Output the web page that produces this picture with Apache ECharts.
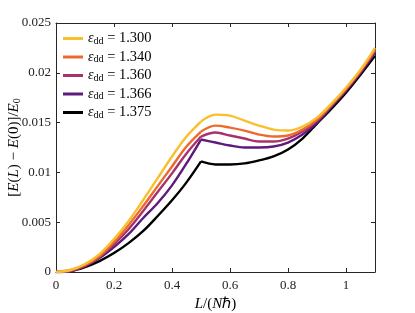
<!DOCTYPE html>
<html>
<head>
<meta charset="utf-8">
<script src="https://cdn.jsdelivr.net/npm/echarts@6/dist/echarts.min.js"></script>
<style>html,body{margin:0;padding:0;background:#fff}#c{width:415px;height:313px}</style>
</head>
<body>
<div id="c"></div>
<script>
var L = [0, 0.05, 0.1, 0.15, 0.2, 0.25, 0.3, 0.35, 0.4, 0.45, 0.5, 0.55, 0.6, 0.65, 0.7, 0.75, 0.8, 0.85, 0.9, 0.95, 1.0, 1.05, 1.1];
var eps = ['1.300', '1.340', '1.360', '1.366', '1.375'];
var e1300 = [0, 0.0002, 0.0008, 0.0018, 0.0033, 0.0051, 0.0072, 0.0094, 0.0116, 0.0136, 0.0151, 0.0158, 0.0157, 0.0152, 0.0147, 0.0143, 0.0142, 0.0146, 0.0155, 0.0169, 0.0185, 0.0203, 0.0225];
var e1340 = [0, 0.0002, 0.0007, 0.0016, 0.0030, 0.0047, 0.0066, 0.0086, 0.0106, 0.0126, 0.0141, 0.0147, 0.0145, 0.0142, 0.0138, 0.0136, 0.0137, 0.0143, 0.0153, 0.0168, 0.0184, 0.0202, 0.0223];
var e1360 = [0, 0.0001, 0.0006, 0.0015, 0.0028, 0.0043, 0.0061, 0.0080, 0.0099, 0.0119, 0.0136, 0.0140, 0.0137, 0.0134, 0.0131, 0.0131, 0.0134, 0.0141, 0.0152, 0.0167, 0.0183, 0.0201, 0.0222];
var e1366 = [0, 0.0001, 0.0006, 0.0014, 0.0025, 0.0038, 0.0054, 0.0069, 0.0087, 0.0109, 0.0133, 0.0130, 0.0127, 0.0125, 0.0125, 0.0126, 0.0130, 0.0138, 0.0150, 0.0166, 0.0182, 0.0200, 0.0220];
var e1375 = [0, 0.0001, 0.0005, 0.0011, 0.0019, 0.0029, 0.0041, 0.0056, 0.0072, 0.0090, 0.0111, 0.0108, 0.0108, 0.0109, 0.0112, 0.0116, 0.0123, 0.0134, 0.0149, 0.0164, 0.0180, 0.0198, 0.0217];
var colors = ['#F9BF2C', '#EC6A2C', '#A8336A', '#5E1A7C', '#000000'];
var xTicks = ['0', '0.2', '0.4', '0.6', '0.8', '1'];
var yTicks = ['0', '0.005', '0.01', '0.015', '0.02', '0.025'];
var kinkL = 0.5;

var allY = [e1300, e1340, e1360, e1366, e1375];
var FONT = 'Liberation Serif';
var axisCol = '#262626';

var series = [];
allY.forEach(function (ys, k) {
  var pts = L.map(function (x, i) { return [x, ys[i]]; });
  var left = pts.filter(function (p) { return p[0] <= kinkL; });
  var right = pts.filter(function (p) { return p[0] >= kinkL; });
  [left, right].forEach(function (part) {
    series.push({
      name: eps[k],
      type: 'line',
      xAxisIndex: 0, yAxisIndex: 0,
      symbol: 'none',
      smooth: 0.35,
      z: 2 + (allY.length - k),
      lineStyle: { width: 2.4, color: colors[k] },
      itemStyle: { color: colors[k] },
      data: part
    });
  });
});

function xl(v) { var s = +v.toFixed(1); return s === 0 ? '0' : String(s); }
function yl(v) { var s = +v.toFixed(3); return s === 0 ? '0' : String(s); }

var chart = echarts.init(document.getElementById('c'), null, { renderer: 'canvas' });
chart.setOption({
  animation: false,
  backgroundColor: '#fff',
  grid: { left: 56, right: 40, top: 23, bottom: 41, containLabel: false, outerBoundsMode: 'none' },
  legend: {
    left: 63, top: 31, orient: 'vertical', padding: 0,
    icon: 'rect', itemWidth: 20, itemHeight: 3, itemGap: 3.5,
    data: eps,
    formatter: function (n) { return '{e|ε}{s|dd}{n| = ' + n + '}'; },
    textStyle: {
      fontFamily: FONT, fontSize: 14, color: '#000', lineHeight: 14,
      rich: {
        e: { fontFamily: FONT, fontStyle: 'italic', fontSize: 14, color: '#000' },
        s: { fontFamily: FONT, fontSize: 10, color: '#000', padding: [5, 0, 0, 0] },
        n: { fontFamily: FONT, fontSize: 14.5, color: '#000' }
      }
    }
  },
  xAxis: [{
    type: 'value', min: 0, max: 1.1, interval: 0.2, position: 'bottom',
    name: '{i|L}{n|/(}{i|N}{n|ℏ)}', nameLocation: 'middle', nameGap: 25, nameMoveOverlap: false,
    nameTextStyle: { rich: {
      i: { fontFamily: FONT, fontStyle: 'italic', fontSize: 15, color: '#000' },
      n: { fontFamily: FONT, fontSize: 15, color: '#000' } } },
    axisLine: { show: true, onZero: false, lineStyle: { color: axisCol, width: 1 } },
    axisTick: { show: true, inside: true, length: 4, lineStyle: { color: axisCol } },
    axisLabel: { show: true, margin: 7, showMaxLabel: false, fontFamily: FONT, fontSize: 13, color: '#222',
      formatter: function (v) { var s = xl(v); return xTicks.indexOf(s) >= 0 ? s : ''; } },
    splitLine: { show: false }
  }, {
    type: 'value', min: 0, max: 1.1, interval: 0.2, position: 'top',
    axisLine: { show: true, onZero: false, lineStyle: { color: axisCol, width: 1 } },
    axisTick: { show: true, inside: true, length: 4, lineStyle: { color: axisCol } },
    axisLabel: { show: false }, splitLine: { show: false }
  }],
  yAxis: [{
    type: 'value', min: 0, max: 0.025, interval: 0.005, position: 'left',
    name: '{n|[}{i|E}{n|(}{i|L}{n|) − }{i|E}{n|(0)]/}{i|E}{s|0}', nameLocation: 'middle', nameGap: 34, nameRotate: 90, nameMoveOverlap: false,
    nameTextStyle: { rich: {
      i: { fontFamily: FONT, fontStyle: 'italic', fontSize: 15, color: '#000' },
      n: { fontFamily: FONT, fontSize: 15, color: '#000' },
      s: { fontFamily: FONT, fontSize: 10, color: '#000', padding: [6, 0, 0, 0] } } },
    axisLine: { show: true, onZero: false, lineStyle: { color: axisCol, width: 1 } },
    axisTick: { show: true, inside: true, length: 4, lineStyle: { color: axisCol } },
    axisLabel: { show: true, margin: 5, fontFamily: FONT, fontSize: 13, color: '#222',
      formatter: function (v) { var s = yl(v); return yTicks.indexOf(s) >= 0 ? s : ''; } },
    splitLine: { show: false }
  }, {
    type: 'value', min: 0, max: 0.025, interval: 0.005, position: 'right',
    axisLine: { show: true, onZero: false, lineStyle: { color: axisCol, width: 1 } },
    axisTick: { show: true, inside: true, length: 4, lineStyle: { color: axisCol } },
    axisLabel: { show: false }, splitLine: { show: false }
  }],
  series: series
});
</script>
</body>
</html>
